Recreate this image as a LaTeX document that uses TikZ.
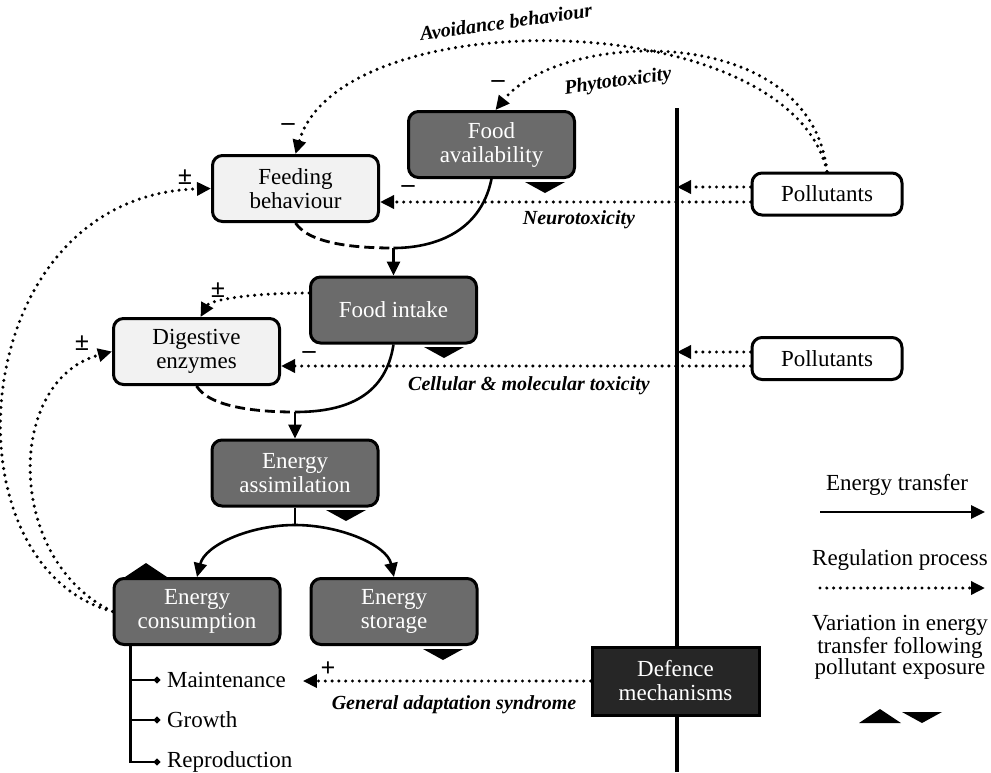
\documentclass[tikz,border=0pt]{standalone}
\usepackage{fontspec}
\setmainfont{Liberation Serif}
\usetikzlibrary{arrows.meta,calc}
\definecolor{boxdark}{HTML}{6B6B6B}
\definecolor{boxlight}{HTML}{F2F2F2}
\definecolor{defdark}{HTML}{262626}
% variation marks (down = decrease, up = increase)
\newcommand{\downmark}[2]{\fill (#1-20,#2) -- (#1+20,#2) -- (#1,#2+11) -- cycle;}
\newcommand{\upmark}[2]{\fill (#1-21,#2) -- (#1+21,#2) -- (#1,#2-14) -- cycle;}
\begin{document}
\begin{tikzpicture}[x=0.5pt,y=-0.5pt,
 box/.style={draw, rounded corners=5pt, line width=1.5pt, minimum width=83pt, minimum height=33pt, align=center, font=\fontsize{11.5}{12}\selectfont},
 dark/.style={box, fill=boxdark, text=white},
 light/.style={box, fill=boxlight},
 pollbox/.style={box, fill=white, minimum width=75pt, minimum height=21pt},
 defbox/.style={draw, line width=1.5pt, fill=defdark, text=white, minimum width=83.5pt, minimum height=34pt, align=center, font=\fontsize{11.5}{12}\selectfont},
 flow/.style={line width=1.3pt, -{Triangle[length=7pt,width=6.5pt]}},
 solidline/.style={line width=1.3pt},
 dashedflow/.style={line width=1.4pt, dash pattern=on 5pt off 2.5pt},
 reg/.style={line width=1.7pt, dash pattern=on 0pt off 3.4pt, line cap=round, -{Triangle[length=7pt,width=6.5pt]}},
 sign/.style={font=\bfseries\fontsize{13}{13}\selectfont, inner sep=0pt},
 lbl/.style={font=\bfseries\itshape\fontsize{10}{10}\selectfont},
 plain/.style={font=\fontsize{11.5}{12}\selectfont}]
\useasboundingbox (0,0) rectangle (991,772);
% separation line
\coordinate (l1) at (677,108);
\coordinate (l2) at (677,772);
\draw[line width=1.6pt] (l1) -- (l2);
% boxes
\node[light] (feed) at (295.5,188.5) {Feeding\\behaviour};
\node[dark] (avail) at (491.5,144.5) {Food\\availability};
\node[dark] (intake) at (393.5,310) {Food intake};
\node[light] (digest) at (196.5,351.5) {Digestive\\enzymes};
\node[dark] (assim) at (295,473) {Energy\\assimilation};
\node[dark] (consum) at (197,611.5) {Energy\\consumption};
\node[dark] (stor) at (394,611.5) {Energy\\storage};
\node[pollbox] (poll1) at (827,194) {Pollutants};
\node[pollbox] (poll2) at (827,358.5) {Pollutants};
\node[defbox] (defence) at (675.5,681) {Defence\\mechanisms};
\node[plain, anchor=west] (maint) at (160,680) {Maintenance};
\node[plain, anchor=west] (growth) at (160,720) {Growth};
\node[plain, anchor=west] (repro) at (160,762) {Reproduction};
% energy transfer
\coordinate (j1) at (393.5,248);
\draw[dashedflow] (feed.south) .. controls (310,245) and (360,248) .. (j1);
\draw[solidline] (avail.south) .. controls (480,235) and (430,248) .. (j1);
\draw[flow] (j1) -- (intake);
\coordinate (j2) at (295,412);
\draw[dashedflow] (digest.south) .. controls (210,408) and (260,412) .. (j2);
\draw[solidline] (intake.south) .. controls (385,400) and (340,412) .. (j2);
\draw[flow] (j2) -- (assim);
\coordinate (j3) at (295,525);
\draw[solidline] (assim) -- (j3);
\draw[flow] (j3) .. controls (250,525) and (205,545) .. (consum.north);
\draw[flow] (j3) .. controls (340,525) and (387,545) .. (stor.north);
\coordinate (t0) at ($(consum.south west)+(18,0)$);
\draw[solidline, -{Circle[length=3pt]}] (t0) |- (maint.west);
\draw[solidline, -{Circle[length=3pt]}] (t0) |- (growth.west);
\draw[solidline, -{Circle[length=3pt]}] (t0) |- (repro.west);
% regulation
\draw[reg] (poll1.north) .. controls (790,5) and (340,0) .. (feed.north);
\draw[reg] (poll1.north) .. controls (810,20) and (560,30) .. ($(avail.north)+(4,0)$);
\coordinate (p1a) at ($(poll1.west)+(0,-7)$);
\coordinate (p1b) at ($(poll1.west)+(0,8)$);
\draw[reg] (p1a) -- (p1a -| l1);
\draw[reg] (p1b) -- (p1b -| feed.east);
\coordinate (p2a) at ($(poll2.west)+(0,-6.5)$);
\coordinate (p2b) at ($(poll2.west)+(0,7.5)$);
\draw[reg] (p2a) -- (p2a -| l1);
\draw[reg] (p2b) -- (p2b -| digest.east);
\draw[reg] ($(intake.west)+(0,-17)$) .. controls (250,293) and (210,300) .. ($(digest.north)+(4,0)$);
\draw[reg] (consum.west) .. controls (-60,565) and (-35,195) .. (feed.west);
\draw[reg] (consum.west) .. controls (5,560) and (5,380) .. (digest.west);
\draw[reg, shorten >=5pt] (defence.west) -- (defence.west -| maint.east);
% signs and labels
\node[sign] (m1) at (288,127) {–};
\node[sign] (m2) at (498,84) {–};
\node[sign] (pm1) at (185,177) {±};
\node[sign] (m3) at (408,189) {–};
\node[sign] (pm2) at (218,290) {±};
\node[sign] (pm3) at (82,343) {±};
\node[sign] (m4) at (309,355) {–};
\node[sign] (plus1) at (328,669) {+};
\node[lbl, rotate=8] (avoid) at (506,22) {Avoidance behaviour};
\node[lbl, rotate=8] (phyto) at (618,82) {Phytotoxicity};
\node[lbl] (neuro) at (579,220) {Neurotoxicity};
\node[lbl] (cell) at (529,386) {Cellular \& molecular toxicity};
\node[lbl] (gas) at (454,705) {General adaptation syndrome};
% variation marks
\downmark{545}{182}
\downmark{444}{347}
\downmark{346}{510}
\downmark{443}{649}
\upmark{146}{577}
% legend
\node[plain] (leg1) at (897,485) {Energy transfer};
\coordinate (e1) at (820,512);
\coordinate (e2) at (985,512);
\draw[flow] (e1) -- (e2);
\node[plain] (leg2) at (900,560) {Regulation process};
\coordinate (r1) at (820,588);
\coordinate (r2) at (985,588);
\draw[reg] (r1) -- (r2);
\node[plain, align=center, font=\fontsize{11.5}{10.5}\selectfont] (leg3) at (900,647) {Variation in energy\\transfer following\\pollutant exposure};
\upmark{880}{723}
\downmark{922}{712}
\end{tikzpicture}
\end{document}
